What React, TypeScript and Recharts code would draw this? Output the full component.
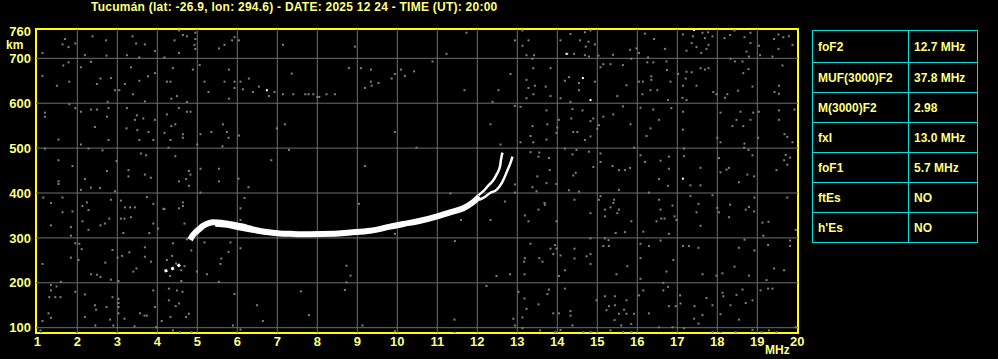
import React from "react";
import {
  ComposedChart,
  XAxis,
  YAxis,
  Line,
  Scatter,
  ReferenceLine,
  ReferenceArea,
} from "recharts";

// axis ticks and grid
const freqTicks = [1, 2, 3, 4, 5, 6, 7, 8, 9, 10, 11, 12, 13, 14, 15, 16, 17, 18, 19, 20];
const heightTicks = [100, 200, 300, 400, 500, 600, 700, 760];
const gridFreqs = [2, 3, 4, 5, 6, 7, 8, 9, 10, 11, 12, 13, 14, 15, 16, 17, 18, 19];
const gridHeights = [100, 200, 300, 400, 500, 600, 700];

// echo traces [MHz, km]
const mainTrace: [number, number][] = [
  [4.82, 296], [4.88, 305], [4.96, 313], [5.04, 319], [5.13, 326], [5.23, 331],
  [5.39, 335], [5.6, 334], [5.81, 331], [6.1, 326], [6.31, 321], [6.48, 317],
  [6.73, 313], [7.06, 310], [7.34, 309], [7.8, 308], [8.4, 309], [8.82, 312],
  [9.32, 316], [9.82, 325], [10.15, 331], [10.52, 337], [11.0, 348], [11.32, 357],
  [11.65, 366], [11.9, 380], [12.05, 392],
];
const f1Echo: [number, number][] = [
  [5.45, 328], [5.75, 326], [6.0, 321], [6.3, 316], [6.7, 311], [7.1, 308],
];
const oBranch: [number, number][] = [
  [12.03, 395], [12.15, 404], [12.28, 417], [12.38, 426], [12.48, 441],
  [12.57, 460], [12.59, 473], [12.63, 490],
];
const xBranch: [number, number][] = [
  [12.05, 385], [12.15, 389], [12.32, 400], [12.48, 407], [12.61, 422],
  [12.69, 437], [12.78, 456], [12.83, 467], [12.88, 481],
];
const lowTrace: [number, number][] = [
  [4.18, 226], [4.3, 229], [4.39, 232], [4.5, 236], [4.57, 241],
];

// background noise [MHz, km]
const noiseDots: [number, number][] = [
  [1.69, 743], [1.78, 725], [1.63, 731], [1.13, 712], [1.95, 733], [2.19, 707], [2.38, 749],
  [2.72, 740], [2.73, 706], [3.38, 749], [3.47, 733], [3.69, 731], [3.94, 716], [3.24, 707],
  [3.55, 702], [1.78, 691], [1.65, 684], [1.13, 661], [1.49, 639], [1.8, 648], [2.09, 680],
  [2.34, 692], [2.58, 655], [2.49, 643], [2.84, 656], [2.94, 629], [3.05, 629], [3.19, 643],
  [3.34, 680], [3.55, 650], [3.77, 660], [3.94, 667], [3.39, 620], [3.69, 604], [2.76, 603],
  [1.8, 598], [1.19, 579], [1.19, 570], [1.53, 519], [1.95, 589], [2.09, 581], [2.34, 586],
  [2.49, 586], [2.78, 589], [2.74, 570], [2.44, 547], [2.78, 518], [2.09, 508], [3.24, 589],
  [3.49, 573], [3.44, 563], [3.65, 566], [3.94, 563], [3.23, 544], [3.5, 540], [3.78, 536],
  [3.9, 518], [3.55, 518], [1.19, 499], [1.53, 473], [1.88, 460], [2.28, 499], [2.63, 495],
  [2.98, 471], [2.19, 431], [1.53, 426], [1.53, 420], [2.74, 449], [2.57, 411], [2.34, 412],
  [2.09, 407], [2.94, 404], [3.28, 451], [3.28, 437], [3.59, 488], [3.72, 484], [3.69, 441],
  [3.84, 434], [1.15, 390], [1.34, 378], [1.63, 390], [1.63, 357], [1.88, 359], [2.24, 379],
  [2.13, 371], [2.28, 362], [2.84, 385], [3.09, 383], [3.19, 368], [3.32, 368], [3.44, 368],
  [3.34, 346], [3.74, 391], [3.9, 376], [4.15, 365], [1.34, 328], [1.84, 324], [1.84, 305],
  [2.13, 337], [2.28, 318], [2.58, 328], [2.69, 332], [2.8, 343], [3.09, 343], [3.18, 343],
  [3.15, 311], [3.9, 332], [3.8, 311], [4.02, 321], [2.05, 287], [2.11, 275], [1.95, 288],
  [1.84, 256], [2.03, 251], [1.13, 242], [2.88, 273], [3.01, 256], [3.12, 260], [3.3, 268],
  [3.69, 279], [3.69, 258], [3.84, 247], [3.48, 232], [3.4, 225], [2.34, 219], [2.49, 218],
  [2.58, 213], [2.7, 245], [2.84, 207], [3.03, 204], [1.59, 202], [1.34, 195], [1.34, 183],
  [1.48, 192], [1.3, 168], [1.45, 168], [1.58, 168], [1.34, 122], [1.28, 132], [1.13, 115],
  [1.08, 94], [1.95, 180], [2.19, 174], [2.44, 150], [2.73, 146], [2.88, 168], [3.03, 164],
  [3.03, 155], [3.03, 146], [3.03, 132], [3.18, 120], [2.9, 105], [2.82, 118], [2.47, 140],
  [2.19, 124], [2.45, 105], [3.9, 183], [3.94, 146], [3.68, 127], [3.74, 127], [3.57, 132],
  [3.43, 103], [4.11, 115], [3.97, 101], [3.0, 88], [1.99, 88], [1.09, 88],
  [4.54, 762], [4.64, 752], [4.74, 749], [4.95, 757], [4.95, 743], [4.93, 730], [4.95, 721],
  [4.43, 740], [4.54, 712], [5.54, 722], [5.68, 730], [5.87, 740], [5.93, 747], [6.04, 740],
  [7.14, 730], [4.18, 702], [4.39, 678], [4.89, 675], [5.06, 685], [4.24, 648], [4.33, 648],
  [4.49, 616], [4.74, 603], [5.18, 648], [5.28, 625], [5.68, 648], [5.79, 675], [5.93, 648],
  [6.08, 648], [5.93, 634], [6.14, 631], [6.29, 655], [6.54, 637], [6.39, 625], [6.79, 616],
  [6.93, 625], [7.14, 620], [5.79, 610], [4.35, 610], [4.54, 589], [4.74, 581], [4.83, 581],
  [4.24, 575], [4.45, 553], [4.35, 549], [4.64, 531], [4.64, 523], [4.18, 534], [4.33, 518],
  [5.0, 508], [5.08, 531], [5.35, 536], [5.64, 553], [5.74, 536], [5.78, 523], [5.63, 504],
  [6.04, 528], [6.99, 544], [7.19, 553], [4.45, 482], [4.28, 501], [4.79, 449], [4.83, 441],
  [4.72, 431], [4.54, 426], [4.79, 416], [5.08, 454], [5.54, 454], [5.54, 426], [6.03, 432],
  [6.28, 413], [6.85, 473], [7.29, 496], [5.08, 401], [4.64, 379], [4.64, 371], [4.54, 366],
  [4.68, 332], [6.08, 366], [6.18, 389], [6.08, 340], [4.18, 364], [4.39, 288], [4.74, 297],
  [4.85, 272], [5.18, 290], [5.83, 290], [5.78, 269], [6.08, 277], [5.6, 254], [5.58, 242],
  [5.24, 219], [5.54, 202], [4.37, 260], [4.47, 243], [4.24, 251], [4.6, 228], [4.68, 237],
  [4.99, 225], [4.32, 215], [4.6, 204], [4.29, 187], [4.49, 183], [4.63, 180], [4.54, 154],
  [4.46, 148], [4.29, 161], [4.79, 131], [4.72, 124], [4.33, 124], [5.93, 175], [6.49, 150],
  [6.64, 115], [5.89, 105], [6.08, 96], [4.56, 90], [4.85, 90], [4.39, 94],
  [8.94, 726], [8.79, 678], [9.09, 678], [9.34, 675], [9.34, 648], [9.19, 634], [9.36, 639],
  [9.53, 645], [9.86, 655], [9.94, 665], [10.09, 675], [10.19, 661], [10.42, 671], [7.36, 666],
  [7.4, 620], [7.7, 620], [7.78, 620], [7.9, 620], [8.0, 614], [8.05, 614], [8.23, 620],
  [8.44, 620], [9.94, 536], [10.48, 501], [9.19, 460], [9.04, 376], [9.94, 309], [8.73, 238],
  [8.83, 216], [8.73, 201], [8.69, 184], [7.59, 181], [7.79, 128], [9.13, 105], [9.94, 92],
  [11.73, 757], [11.23, 710], [10.88, 693], [11.68, 629], [12.53, 629], [12.38, 603],
  [12.83, 665], [12.33, 553], [12.58, 508], [13.13, 762], [12.94, 740], [13.13, 728],
  [13.28, 740], [13.23, 707], [13.42, 707], [13.38, 699], [13.4, 678], [13.23, 652],
  [13.44, 639], [13.28, 634], [13.4, 620], [13.23, 611], [13.08, 592], [12.94, 594],
  [13.38, 549], [13.33, 527], [13.4, 513], [13.55, 490], [13.33, 491], [13.53, 481],
  [13.5, 437], [13.38, 413], [13.48, 404], [13.08, 513], [12.94, 419], [12.94, 401],
  [12.69, 381], [12.33, 340], [11.59, 340], [11.33, 399], [13.19, 350], [13.28, 337],
  [13.53, 363], [13.68, 378], [11.44, 293], [13.33, 287], [13.19, 255], [13.17, 247],
  [13.55, 255], [13.63, 247], [13.18, 219], [12.82, 219], [12.48, 215], [12.23, 193],
  [13.03, 180], [13.18, 165], [13.53, 152], [13.23, 142], [13.13, 123], [12.9, 120],
  [12.94, 105], [13.13, 99], [13.57, 94], [11.43, 118], [11.43, 88],
  [14.33, 754], [14.57, 740], [14.69, 758], [14.83, 762], [14.78, 737], [14.94, 731],
  [14.71, 726], [14.08, 740], [14.25, 710], [14.42, 710], [14.69, 707], [14.79, 704],
  [15.03, 706], [15.39, 708], [15.82, 719], [15.98, 722], [16.19, 755], [16.42, 743],
  [16.69, 721], [16.27, 702], [16.04, 712], [13.83, 678], [14.19, 650], [14.29, 658],
  [14.54, 645], [14.54, 629], [14.94, 648], [15.08, 680], [15.15, 687], [15.33, 687],
  [15.64, 685], [15.73, 640], [15.5, 616], [15.85, 699], [16.04, 648], [16.14, 648],
  [16.25, 691], [16.35, 660], [16.35, 652], [16.4, 691], [16.73, 693], [16.74, 674],
  [16.83, 648], [16.13, 620], [16.33, 629], [16.5, 629], [16.77, 607], [13.71, 637],
  [14.08, 611], [13.83, 616], [14.33, 603], [13.73, 584], [14.04, 563], [14.0, 546],
  [13.98, 534], [14.38, 587], [14.35, 566], [14.4, 536], [14.5, 536], [14.63, 584],
  [14.69, 518], [14.83, 560], [14.83, 526], [14.9, 566], [15.0, 543], [15.04, 551],
  [15.15, 570], [15.4, 575], [15.64, 593], [15.83, 553], [16.08, 590], [16.33, 544],
  [16.23, 527], [16.4, 586], [16.54, 563], [16.85, 589], [13.75, 553], [13.73, 519],
  [13.79, 478], [14.19, 499], [14.38, 486], [14.48, 496], [14.79, 492], [14.9, 458],
  [14.46, 445], [14.4, 439], [13.81, 451], [13.73, 422], [13.98, 420], [14.29, 406],
  [14.54, 403], [15.08, 488], [15.08, 469], [15.38, 460], [15.54, 451], [15.69, 451],
  [15.82, 456], [15.92, 501], [16.08, 484], [16.19, 469], [16.58, 472], [16.79, 481],
  [16.79, 454], [16.54, 431], [16.77, 416], [15.54, 407], [16.29, 401], [13.69, 374],
  [13.98, 337], [14.43, 385], [14.83, 355], [15.04, 385], [15.08, 393], [15.19, 363],
  [15.19, 348], [15.33, 368], [15.42, 385], [15.4, 378], [15.5, 355], [15.54, 363],
  [15.46, 311], [15.69, 313], [15.85, 337], [16.15, 314], [16.54, 385], [16.58, 363],
  [16.48, 337], [16.6, 343], [16.68, 343], [16.79, 309], [14.83, 299], [15.19, 299],
  [15.28, 295], [13.94, 284], [13.83, 276], [13.98, 276], [14.43, 276], [13.9, 264],
  [14.08, 261], [14.43, 254], [14.73, 259], [14.83, 264], [14.83, 242], [14.19, 228],
  [14.04, 215], [15.15, 282], [15.29, 282], [15.48, 219], [15.75, 237], [16.08, 287],
  [16.08, 255], [16.29, 282], [16.08, 209], [16.58, 294], [16.73, 225], [16.65, 200],
  [16.77, 191], [14.19, 187], [13.79, 185], [13.75, 175], [13.9, 132], [14.04, 132],
  [14.33, 137], [14.33, 127], [14.38, 105], [14.08, 95], [13.94, 90], [14.65, 90],
  [14.83, 90], [15.0, 88], [14.98, 161], [15.19, 170], [15.29, 148], [15.23, 139],
  [15.44, 170], [15.44, 150], [15.43, 117], [15.54, 131], [15.6, 105], [15.67, 140],
  [15.73, 131], [15.85, 108], [15.73, 161], [15.33, 94], [15.64, 90], [15.85, 90],
  [16.04, 172], [16.15, 183], [15.92, 131], [16.29, 132], [16.65, 183], [16.54, 101],
  [16.79, 148],
  [17.14, 753], [17.39, 749], [17.63, 757], [17.69, 745], [17.77, 758], [17.88, 749],
  [17.36, 734], [17.23, 717], [17.48, 725], [17.6, 712], [17.73, 721], [17.78, 730],
  [18.18, 745], [18.32, 752], [18.43, 762], [18.68, 747], [18.83, 757], [18.83, 734],
  [18.73, 715], [18.79, 704], [19.04, 728], [19.42, 743], [19.53, 753], [19.65, 747],
  [19.79, 749], [19.88, 730], [19.53, 721], [19.38, 704], [19.07, 707], [17.02, 665],
  [17.23, 670], [17.21, 655], [17.14, 639], [17.36, 669], [17.48, 639], [17.58, 678],
  [17.69, 675], [17.78, 678], [17.9, 625], [17.98, 620], [18.25, 620], [18.19, 612],
  [18.33, 699], [18.44, 693], [18.63, 693], [18.65, 667], [18.78, 676], [18.88, 637],
  [18.52, 628], [17.13, 612], [17.23, 607], [19.63, 684], [19.54, 639], [19.43, 625],
  [19.54, 621], [17.14, 581], [17.14, 541], [18.08, 579], [18.0, 523], [18.08, 513],
  [18.38, 549], [18.48, 563], [18.58, 581], [18.65, 549], [18.83, 563], [18.9, 579],
  [18.68, 510], [19.04, 581], [19.02, 523], [19.54, 584], [19.54, 563], [19.68, 531],
  [19.75, 525], [19.88, 513], [19.93, 586], [17.17, 499], [17.17, 482], [17.58, 456],
  [18.04, 478], [18.08, 446], [18.23, 452], [18.29, 456], [18.54, 424], [18.75, 441],
  [18.92, 437], [18.67, 501], [18.78, 496], [18.88, 484], [17.33, 417], [17.58, 417],
  [19.48, 451], [19.67, 473], [19.71, 485], [19.82, 479], [19.75, 463], [16.88, 372],
  [16.93, 348], [16.98, 340], [17.33, 393], [17.53, 376], [17.48, 357], [17.58, 327],
  [17.88, 395], [18.0, 367], [18.04, 357], [18.32, 374], [18.29, 346], [18.71, 363],
  [18.79, 369], [18.92, 359], [18.93, 390], [19.13, 334], [19.28, 336], [19.15, 305],
  [19.75, 390], [19.96, 318], [16.9, 251], [17.14, 282], [17.29, 282], [17.53, 278],
  [17.63, 219], [17.98, 216], [18.13, 221], [18.43, 236], [18.54, 278], [18.68, 296],
  [18.79, 216], [18.93, 272], [19.27, 284], [19.42, 232], [19.67, 228], [19.82, 282],
  [19.82, 294], [19.23, 206], [19.08, 183], [19.27, 187], [19.38, 187], [17.07, 172],
  [16.96, 148], [17.08, 154], [17.43, 148], [17.63, 128], [17.73, 166], [17.88, 150],
  [18.08, 130], [18.13, 178], [18.15, 170], [18.33, 150], [18.48, 173], [18.63, 185],
  [18.54, 118], [18.71, 155], [18.88, 161], [18.88, 95], [18.46, 90], [18.08, 88],
  [17.88, 90], [17.42, 120], [17.53, 109], [17.17, 99], [16.88, 101], [19.11, 90],
  [19.29, 94], [19.48, 90], [19.96, 101],
];
const whiteDots: [number, number][] = [
  [6.74, 629], [14.64, 656], [14.83, 607], [14.23, 710], [17.42, 763], [17.14, 432],
];

// table on the right
const paramNames = ["foF2", "MUF(3000)F2", "M(3000)F2", "fxI", "foF1", "ftEs", "h'Es"];
const paramValues = ["12.7 MHz", "37.8 MHz", "2.98", "13.0 MHz", "5.7 MHz", "NO", "NO"];

const toPts = (arr: [number, number][]) => arr.map(([f, h]) => ({ f, h }));

const YELLOW = "#ffff00";
const TEXT = "#ffff80";
const FONT = "'Liberation Sans', Arial, sans-serif";

const NoiseDot = (props: any) => {
  const { cx, cy, fill } = props;
  if (cx == null || cy == null) return null;
  return <rect x={cx - 1} y={cy - 1} width={2} height={2} fill={fill} />;
};

const App = () => {
  const tickStyle = { fill: TEXT, fontSize: 13, fontWeight: 700, fontFamily: FONT };
  return (
    <div
      style={{
        position: "absolute",
        left: 0,
        top: 0,
        width: 998,
        height: 359,
        background: "#000",
        fontFamily: FONT,
        overflow: "hidden",
      }}
    >
      <div
        style={{
          position: "absolute",
          left: 91,
          top: 0,
          color: TEXT,
          fontSize: 12,
          fontWeight: 700,
          lineHeight: "14px",
          letterSpacing: 0.25,
          whiteSpace: "nowrap",
        }}
      >
        Tucumán (lat: -26.9, lon: 294.6) - DATE: 2025 12 24 - TIME (UT): 20:00
      </div>
      <ComposedChart
        width={998}
        height={359}
        margin={{ top: 29, right: 200, bottom: 0, left: 0 }}
      >
        <XAxis
          type="number"
          dataKey="f"
          domain={[0.9675, 20.0175]}
          ticks={freqTicks}
          allowDataOverflow
          height={26}
          tickLine={false}
          axisLine={false}
          tickSize={0}
          tickMargin={4}
          tick={tickStyle}
          interval={0}
        />
        <YAxis
          type="number"
          dataKey="h"
          domain={[88.2, 765.3]}
          ticks={heightTicks}
          allowDataOverflow
          width={36}
          tickLine={false}
          axisLine={false}
          tickSize={0}
          tickMargin={5}
          tick={tickStyle}
          interval={0}
        />
        {gridFreqs.map((f) => (
          <ReferenceLine key={`gx${f}`} x={f} stroke="#6e6e6e" strokeWidth={1} />
        ))}
        {gridHeights.map((h) => (
          <ReferenceLine key={`gy${h}`} y={h} stroke="#6e6e6e" strokeWidth={1} />
        ))}
        <Scatter
          data={toPts(noiseDots)}
          fill="#808080"
          shape={NoiseDot}
          isAnimationActive={false}
        />
        <Scatter
          data={toPts(whiteDots)}
          fill="#ffffff"
          shape={NoiseDot}
          isAnimationActive={false}
        />
        <Line
          data={toPts(lowTrace)}
          dataKey="h"
          stroke="#ffffff"
          strokeWidth={3}
          strokeDasharray="3 4"
          dot={false}
          type="linear"
          isAnimationActive={false}
        />
        <Line
          data={toPts(f1Echo)}
          dataKey="h"
          stroke="#ffffff"
          strokeWidth={3}
          dot={false}
          type="linear"
          isAnimationActive={false}
        />
        <Line
          data={toPts(mainTrace)}
          dataKey="h"
          stroke="#ffffff"
          strokeWidth={6}
          dot={false}
          type="monotone"
          isAnimationActive={false}
        />
        <Line
          data={toPts(oBranch)}
          dataKey="h"
          stroke="#ffffff"
          strokeWidth={2.5}
          dot={false}
          type="monotone"
          isAnimationActive={false}
        />
        <Line
          data={toPts(xBranch)}
          dataKey="h"
          stroke="#ffffff"
          strokeWidth={2.5}
          dot={false}
          type="monotone"
          isAnimationActive={false}
        />
        <ReferenceArea
          x1={0.9675}
          x2={20.0175}
          y1={88.2}
          y2={765.3}
          fill="none"
          stroke={YELLOW}
          strokeWidth={2}
          ifOverflow="visible"
        />
      </ComposedChart>
      <div
        style={{
          position: "absolute",
          left: 6,
          top: 40,
          color: TEXT,
          fontSize: 12,
          fontWeight: 700,
          lineHeight: "10px",
        }}
      >
        km
      </div>
      <div
        style={{
          position: "absolute",
          left: 765,
          top: 344,
          color: TEXT,
          fontSize: 12,
          fontWeight: 700,
          lineHeight: "13px",
        }}
      >
        MHz
      </div>
      <table
        style={{
          position: "absolute",
          left: 812,
          top: 30,
          width: 166,
          borderCollapse: "collapse",
          color: TEXT,
          fontSize: 12,
          fontWeight: 700,
        }}
      >
        <tbody>
          {paramNames.map((name, i) => (
            <tr key={name} style={{ height: i === 0 ? 32 : 30 }}>
              <td
                style={{
                  border: "1px solid #00e0e0",
                  padding: "0 0 0 5px",
                  width: 90,
                }}
              >
                {name}
              </td>
              <td style={{ border: "1px solid #00e0e0", padding: "0 0 0 5px" }}>
                {paramValues[i]}
              </td>
            </tr>
          ))}
        </tbody>
      </table>
    </div>
  );
};

export default App;
